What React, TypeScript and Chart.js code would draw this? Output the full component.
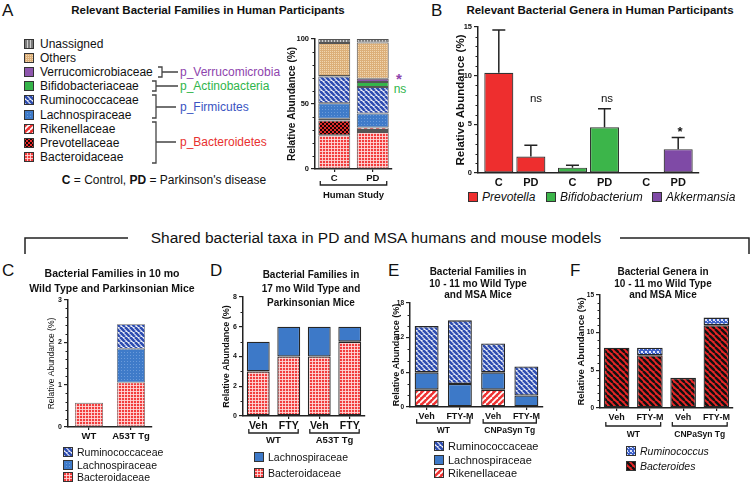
import React, { useEffect, useRef } from 'react';
import { Chart, registerables } from 'chart.js';
Chart.register(...registerables);

const FONT = '"Liberation Sans", Arial, Helvetica, sans-serif';
Chart.defaults.font.family = FONT;
Chart.defaults.color = '#111';

// ---------------- Data ----------------
// Panel A: relative abundance (%) of families, human participants
const humanGroups = ['C', 'PD'];
const aBacteroidaceae = [26, 28.5];
const aPrevotellaceae = [11.3, 1.5];
const aRikenellaceae = [1.3, 2];
const aLachnospiraceae = [12, 10.7];
const aRuminococcaceae = [20.6, 20.3];
const aBifidobacteriaceae = [0.3, 4];
const aVerrucomicrobiaceae = [0, 2.4];
const aOthers = [25.5, 28];
const aUnassigned = [3, 2.6];
const aLegendNames = ['Unassigned', 'Others', 'Verrucomicrobiaceae', 'Bifidobacteriaceae', 'Ruminococcaceae', 'Lachnospiraceae', 'Rikenellaceae', 'Prevotellaceae', 'Bacteroidaceae'];
const aLegendKinds = ['unassigned', 'others', 'verruco', 'bifido', 'rumino', 'lachnoDots', 'rikenel', 'prevot', 'bacteroidaceae'];

// Panel B: genera, mean and SEM
const genera = ['Prevotella', 'Bifidobacterium', 'Akkermansia'];
const bControl = [10.3, 0.55, 0];
const bControlSem = [4.4, 0.25, 0];
const bPD = [1.7, 4.7, 2.45];
const bPDSem = [1.15, 1.9, 1.2];

// Panel C
const cGroups = ['WT', 'A53T Tg'];
const cBacteroidaceae = [0.57, 1.05];
const cLachnospiraceae = [0, 0.8];
const cRuminococcaceae = [0, 0.58];

// Panel D
const dGroups = ['Veh', 'FTY', 'Veh', 'FTY'];
const dGenotypes = ['WT', 'A53T Tg'];
const dBacteroidaceae = [3, 4, 4, 5];
const dLachnospiraceae = [2, 2, 2, 1];

// Panel E
const eGroups = ['Veh', 'FTY-M', 'Veh', 'FTY-M'];
const eGenotypes = ['WT', 'CNPaSyn Tg'];
const eRikenellaceae = [3, 0, 3, 0];
const eLachnospiraceae = [3, 4, 3, 2];
const eRuminococcaceae = [8, 11, 5, 5];

// Panel F
const fGroups = ['Veh', 'FTY-M', 'Veh', 'FTY-M'];
const fGenotypes = ['WT', 'CNPaSyn Tg'];
const fBacteroides = [8, 7, 4, 11];
const fRuminococcus = [0, 1, 0, 1];

// ---------------- Fills ----------------
function makeFill(kind: string): string | CanvasPattern {
  const mk = (w: number, h: number, draw: (g: CanvasRenderingContext2D) => void): CanvasPattern => {
    const c = document.createElement('canvas');
    c.width = w; c.height = h;
    const g = c.getContext('2d')!;
    draw(g);
    return g.createPattern(c, 'repeat')!;
  };
  const stripes = (bg: string, fg: string, n: number, lw: number, up: boolean) =>
    mk(n, n, g => {
      g.fillStyle = bg; g.fillRect(0, 0, n, n);
      g.strokeStyle = fg; g.lineWidth = lw;
      for (const o of [-n, 0, n]) {
        g.beginPath();
        if (up) { g.moveTo(o, n); g.lineTo(o + n, 0); } else { g.moveTo(o, 0); g.lineTo(o + n, n); }
        g.stroke();
      }
    });
  switch (kind) {
    case 'unassigned': return mk(3, 1, g => { g.fillStyle = '#7c7c7c'; g.fillRect(0, 0, 3, 1); g.fillStyle = '#cfcfcf'; g.fillRect(0, 0, 1, 1); });
    case 'others': return mk(2, 2, g => { g.fillStyle = '#dcaf79'; g.fillRect(0, 0, 2, 2); g.fillStyle = '#f0d6b0'; g.fillRect(0, 0, 1, 1); });
    case 'verruco': return '#8e56ad';
    case 'bifido': return '#35b44a';
    case 'rumino': return stripes('#eef1fa', '#2d4cb0', 5, 2.6, false);
    case 'lachnoDots': return mk(3, 3, g => { g.fillStyle = '#3f7bc9'; g.fillRect(0, 0, 3, 3); g.fillStyle = '#6b9bda'; g.fillRect(0, 0, 1, 1); });
    case 'lachno': return '#3d79c8';
    case 'rikenel': return stripes('#ee3232', '#ffffff', 6, 1.8, true);
    case 'prevot': return mk(4, 4, g => { g.fillStyle = '#150505'; g.fillRect(0, 0, 4, 4); g.fillStyle = '#e42a2a'; g.fillRect(0, 0, 2, 2); g.fillRect(2, 2, 2, 2); });
    case 'bacteroidaceae': return mk(3, 3, g => { g.fillStyle = '#f23c3c'; g.fillRect(0, 0, 3, 3); g.fillStyle = 'rgba(255,220,220,0.85)'; g.fillRect(0, 0, 3, 1); g.fillRect(0, 0, 1, 3); });
    case 'bRed': return '#ee2e2e';
    case 'bGreen': return '#3cb54a';
    case 'bPurple': return '#7f4aa6';
    case 'bacteroides': return stripes('#e62626', '#111111', 6, 2.4, false);
    case 'ruminococcus': return mk(4, 4, g => { g.fillStyle = '#3f62c9'; g.fillRect(0, 0, 4, 4); g.fillStyle = '#dfe6fa'; g.fillRect(0, 0, 2, 2); g.fillRect(2, 2, 1, 1); });
    default: return '#999';
  }
}

// ---------------- Helpers ----------------
function Txt(props: { x: number; y: number; s: number; w?: number; c?: string; it?: boolean; a?: 'left' | 'center' | 'right'; children: React.ReactNode }) {
  const { x, y, s, w = 400, c = '#111', it = false, a = 'left', children } = props;
  const tx = a === 'center' ? '-50%' : a === 'right' ? '-100%' : '0';
  return (
    <div style={{ position: 'absolute', left: x, top: y, transform: `translate(${tx}, -50%)`, fontSize: s, fontWeight: w, fontStyle: it ? 'italic' : 'normal', color: c, whiteSpace: 'nowrap', lineHeight: 1, fontFamily: FONT }}>
      {children}
    </div>
  );
}

function Swatch({ kind, x, y, size = 10 }: { kind: string; x: number; y: number; size?: number }) {
  const ref = useRef<HTMLCanvasElement>(null);
  useEffect(() => {
    const g = ref.current!.getContext('2d')!;
    g.fillStyle = makeFill(kind) as any;
    g.fillRect(0, 0, size, size);
    g.strokeStyle = '#333';
    g.lineWidth = 1;
    g.strokeRect(0.5, 0.5, size - 1, size - 1);
  }, []);
  return <canvas ref={ref} width={size} height={size} style={{ position: 'absolute', left: x, top: y - size / 2 }} />;
}

type Ds = { label: string; data: number[]; fill: string | string[]; errors?: number[] };
type Group = { label: string; from: number; to: number };
interface PanelProps {
  left: number; top: number; width: number; height: number;
  yw: number; xh: number; padTop: number; padRight: number; padBottom: number;
  labels: string[]; datasets: Ds[]; stacked: boolean;
  yMax: number; yStep: number; minorStep: number;
  yTitle: string; yTitleSize: number; yTitleWeight: string; yTitlePad: number;
  tickSize: number; xSize: number; showX: boolean;
  barPct: number; catPct: number; border: number; borderColor?: string;
  groups?: Group[]; bracketY?: number; groupY?: number; groupSize?: number;
  barLabelY?: number; barLabelSize?: number;
}

function BarPanel(p: PanelProps) {
  const ref = useRef<HTMLCanvasElement>(null);
  useEffect(() => {
    const overlay = {
      id: 'overlay',
      afterDatasetsDraw(chart: any) {
        const ctx = chart.ctx;
        const ys = chart.scales.y;
        p.datasets.forEach((d, i) => {
          if (!d.errors) return;
          const meta = chart.getDatasetMeta(i);
          meta.data.forEach((el: any, j: number) => {
            const e = d.errors![j];
            if (!e) return;
            const yTop = ys.getPixelForValue(d.data[j] + e);
            ctx.save();
            ctx.strokeStyle = '#222'; ctx.lineWidth = 1.5;
            ctx.beginPath();
            ctx.moveTo(el.x, el.y); ctx.lineTo(el.x, yTop);
            ctx.moveTo(el.x - 6.5, yTop); ctx.lineTo(el.x + 6.5, yTop);
            ctx.stroke();
            ctx.restore();
          });
        });
      },
      afterDraw(chart: any) {
        const ctx = chart.ctx;
        const ys = chart.scales.y;
        const area = chart.chartArea;
        ctx.save();
        ctx.strokeStyle = '#222'; ctx.lineWidth = 1;
        for (let v = 0; v <= p.yMax + 1e-9; v += p.minorStep) {
          const r = v / p.yStep;
          if (Math.abs(r - Math.round(r)) < 1e-6) continue;
          const y = Math.round(ys.getPixelForValue(v)) + 0.5;
          ctx.beginPath(); ctx.moveTo(area.left - 2.5, y); ctx.lineTo(area.left, y); ctx.stroke();
        }
        if (p.groups) {
          const meta = chart.getDatasetMeta(0);
          ctx.lineWidth = 1.3; ctx.strokeStyle = '#222'; ctx.fillStyle = '#111';
          ctx.font = `bold ${p.groupSize}px ${FONT}`;
          ctx.textAlign = 'center'; ctx.textBaseline = 'middle';
          const by = p.bracketY! - p.top;
          for (const g of p.groups) {
            const a: any = meta.data[g.from];
            const b: any = meta.data[g.to];
            const x0 = a.x - a.width / 2 + 2;
            const x1 = b.x + b.width / 2 - 2;
            ctx.beginPath();
            ctx.moveTo(x0, by - 4); ctx.lineTo(x0, by); ctx.lineTo(x1, by); ctx.lineTo(x1, by - 4);
            ctx.stroke();
            ctx.fillText(g.label, (x0 + x1) / 2, p.groupY! - p.top);
          }
        }
        if (p.barLabelY) {
          ctx.fillStyle = '#111';
          ctx.font = `bold ${p.barLabelSize}px ${FONT}`;
          ctx.textAlign = 'center'; ctx.textBaseline = 'middle';
          p.datasets.forEach((d, i) => {
            chart.getDatasetMeta(i).data.forEach((el: any) => {
              ctx.fillText(d.label, el.x, p.barLabelY! - p.top);
            });
          });
        }
        ctx.restore();
      },
    };
    const chart = new Chart(ref.current!, {
      type: 'bar',
      data: {
        labels: p.labels,
        datasets: p.datasets.map(d => ({
          label: d.label,
          data: d.data,
          backgroundColor: (Array.isArray(d.fill) ? d.fill.map(makeFill) : makeFill(d.fill)) as any,
          borderColor: p.borderColor || '#262626',
          borderWidth: p.border,
          borderSkipped: false,
          barPercentage: p.barPct,
          categoryPercentage: p.catPct,
        })),
      },
      options: {
        responsive: false,
        animation: false,
        devicePixelRatio: 1,
        layout: { padding: { left: 0, top: p.padTop, right: p.padRight, bottom: p.padBottom } },
        plugins: { legend: { display: false }, tooltip: { enabled: false } },
        scales: {
          x: {
            stacked: p.stacked,
            offset: true,
            ticks: { display: p.showX, font: { size: p.xSize, weight: 'bold' }, color: '#111', padding: 1, maxRotation: 0, autoSkip: false },
            grid: { display: true, drawOnChartArea: false, drawTicks: p.showX, tickLength: 3, color: '#222', lineWidth: 1.2, offset: false },
            border: { display: true, color: '#222', width: 1.5 },
            afterFit: (s: any) => { s.height = p.xh; s.paddingLeft = 0; s.paddingRight = 0; },
          },
          y: {
            stacked: p.stacked,
            min: 0,
            max: p.yMax,
            ticks: { stepSize: p.yStep, font: { size: p.tickSize, weight: 'bold' }, color: '#111', padding: 2 },
            grid: { display: true, drawOnChartArea: false, drawTicks: true, tickLength: 4, color: '#222', lineWidth: 1.2 },
            border: { display: true, color: '#222', width: 1.5 },
            title: { display: true, text: p.yTitle, font: { size: p.yTitleSize, weight: p.yTitleWeight as any }, color: '#111', padding: { top: p.yTitlePad, bottom: 0 } },
            afterFit: (s: any) => { s.width = p.yw; s.paddingTop = 0; s.paddingBottom = 0; },
          },
        },
      } as any,
      plugins: [overlay],
    });
    return () => chart.destroy();
  }, []);
  return <canvas ref={ref} width={p.width} height={p.height} style={{ position: 'absolute', left: p.left, top: p.top }} />;
}

// ---------------- App ----------------
export default function App() {
  const ylab = 'Relative Abundance (%)';
  return (
    <div style={{ position: 'fixed', left: 0, top: 0, width: 752, height: 482, background: '#fff', overflow: 'hidden', fontFamily: FONT }}>
      {/* Panel letters */}
      <Txt x={2} y={10} s={17}>A</Txt>
      <Txt x={431} y={10} s={17}>B</Txt>
      <Txt x={2} y={270} s={17}>C</Txt>
      <Txt x={210} y={270} s={17}>D</Txt>
      <Txt x={388} y={270} s={17}>E</Txt>
      <Txt x={570} y={270} s={17}>F</Txt>

      {/* Panel A */}
      <Txt x={208} y={11} s={11.5} w={700} a="center">Relevant Bacterial Families in Human Participants</Txt>
      {aLegendNames.map((n, i) => (
        <React.Fragment key={n}>
          <Swatch kind={aLegendKinds[i]} x={24} y={44 + i * 14.1} />
          <Txt x={40} y={44 + i * 14.1} s={12}>{n}</Txt>
        </React.Fragment>
      ))}
      <Txt x={180} y={72} s={12} c="#8e44ad">p_Verrucomicrobia</Txt>
      <Txt x={180} y={86} s={12} c="#2fb54a">p_Actinobacteria</Txt>
      <Txt x={180} y={107} s={12} c="#3a54c2">p_Firmicutes</Txt>
      <Txt x={180} y={142} s={12} c="#e8312f">p_Bacteroidetes</Txt>
      <Txt x={164} y={180} s={12} a="center"><b>C</b> = Control, <b>PD</b> = Parkinson's disease</Txt>
      <Txt x={399} y={78} s={15} w={700} c="#8e44ad" a="center">*</Txt>
      <Txt x={400} y={89} s={12} c="#2fb54a" a="center">ns</Txt>
      <BarPanel
        left={280} top={31} width={118} height={174} yw={35} xh={16} padTop={8} padRight={6} padBottom={20}
        labels={humanGroups} stacked
        datasets={[
          { label: 'Bacteroidaceae', data: aBacteroidaceae, fill: 'bacteroidaceae' },
          { label: 'Prevotellaceae', data: aPrevotellaceae, fill: 'prevot' },
          { label: 'Rikenellaceae', data: aRikenellaceae, fill: 'rikenel' },
          { label: 'Lachnospiraceae', data: aLachnospiraceae, fill: 'lachnoDots' },
          { label: 'Ruminococcaceae', data: aRuminococcaceae, fill: 'rumino' },
          { label: 'Bifidobacteriaceae', data: aBifidobacteriaceae, fill: 'bifido' },
          { label: 'Verrucomicrobiaceae', data: aVerrucomicrobiaceae, fill: 'verruco' },
          { label: 'Others', data: aOthers, fill: 'others' },
          { label: 'Unassigned', data: aUnassigned, fill: 'unassigned' },
        ]}
        yMax={100} yStep={50} minorStep={10}
        yTitle={ylab} yTitleSize={10} yTitleWeight="bold" yTitlePad={6}
        tickSize={7.5} xSize={9.5} showX barPct={0.83} catPct={1} border={1} borderColor="#555"
        groups={[{ label: 'Human Study', from: 0, to: 1 }]} bracketY={185} groupY={195} groupSize={9.5}
      />

      {/* Panel B */}
      <Txt x={600} y={11} s={11.5} w={700} a="center">Relevant Bacterial Genera in Human Participants</Txt>
      <BarPanel
        left={440} top={19} width={265} height={171} yw={38} xh={4} padTop={8} padRight={6} padBottom={13}
        labels={genera} stacked={false}
        datasets={[
          { label: 'C', data: bControl, fill: ['bRed', 'bGreen', 'bPurple'], errors: bControlSem },
          { label: 'PD', data: bPD, fill: ['bRed', 'bGreen', 'bPurple'], errors: bPDSem },
        ]}
        yMax={15} yStep={5} minorStep={1}
        yTitle={ylab} yTitleSize={11.5} yTitleWeight="bold" yTitlePad={14}
        tickSize={7.5} xSize={11} showX={false} barPct={0.906} catPct={0.87} border={1.2} borderColor="#333"
        barLabelY={183} barLabelSize={11}
      />
      <Txt x={536} y={99} s={11.5} a="center">ns</Txt>
      <Txt x={607} y={99} s={11.5} a="center">ns</Txt>
      <Txt x={680} y={131} s={13} w={700} a="center">*</Txt>
      <Swatch kind="bRed" x={468} y={197} />
      <Txt x={482} y={197} s={12} it>{genera[0]}</Txt>
      <Swatch kind="bGreen" x={546} y={197} />
      <Txt x={560} y={197} s={12} it>{genera[1]}</Txt>
      <Swatch kind="bPurple" x={652} y={197} />
      <Txt x={666} y={197} s={12} it>{genera[2]}</Txt>

      {/* Header */}
      <Txt x={376} y={238} s={15.5} a="center">Shared bacterial taxa in PD and MSA humans and mouse models</Txt>
      <svg width={752} height={482} style={{ position: 'absolute', left: 0, top: 0, pointerEvents: 'none' }}>
        <g fill="none" stroke="#444" strokeWidth={1.3}>
          <path d="M158 67 H162 V77 H158 M162 72 H178" />
          <path d="M152 81 H156 V91 H152 M156 86 H178" />
          <path d="M152 95 H156 V118 H152 M156 107 H176" />
          <path d="M152 122 H156 V163 H152 M156 142 H176" />
        </g>
        <path d="M25 254 V238 H128 M620 238 H749 V254" fill="none" stroke="#222" strokeWidth={1.5} />
      </svg>

      {/* Panel C */}
      <Txt x={112} y={273} s={10.5} w={700} a="center">Bacterial Families in 10 mo</Txt>
      <Txt x={112} y={288} s={10.5} w={700} a="center">Wild Type and Parkinsonian Mice</Txt>
      <BarPanel
        left={40} top={292} width={118} height={153} yw={28} xh={16} padTop={8} padRight={6} padBottom={2}
        labels={cGroups} stacked
        datasets={[
          { label: 'Bacteroidaceae', data: cBacteroidaceae, fill: 'bacteroidaceae' },
          { label: 'Lachnospiraceae', data: cLachnospiraceae, fill: 'lachnoDots' },
          { label: 'Ruminococcaceae', data: cRuminococcaceae, fill: 'rumino' },
        ]}
        yMax={3} yStep={1} minorStep={0.2}
        yTitle={ylab} yTitleSize={8.5} yTitleWeight="normal" yTitlePad={7}
        tickSize={7} xSize={9.5} showX barPct={0.67} catPct={1} border={0.8} borderColor="#666"
      />
      <Swatch kind="rumino" x={63} y={452} />
      <Txt x={77} y={452} s={10.5}>Ruminococcaceae</Txt>
      <Swatch kind="lachnoDots" x={63} y={464.5} />
      <Txt x={77} y={464.5} s={10.5}>Lachnospiraceae</Txt>
      <Swatch kind="bacteroidaceae" x={63} y={477} />
      <Txt x={77} y={477} s={10.5}>Bacteroidaceae</Txt>

      {/* Panel D */}
      <Txt x={311} y={275} s={10} w={700} a="center">Bacterial Families in</Txt>
      <Txt x={311} y={289} s={10} w={700} a="center">17 mo Wild Type and</Txt>
      <Txt x={311} y={303} s={10} w={700} a="center">Parkinsonian Mice</Txt>
      <BarPanel
        left={210} top={289} width={161} height={161} yw={33} xh={16} padTop={8} padRight={6} padBottom={18}
        labels={dGroups} stacked
        datasets={[
          { label: 'Bacteroidaceae', data: dBacteroidaceae, fill: 'bacteroidaceae' },
          { label: 'Lachnospiraceae', data: dLachnospiraceae, fill: 'lachno' },
        ]}
        yMax={8} yStep={2} minorStep={1}
        yTitle={ylab} yTitleSize={9} yTitleWeight="bold" yTitlePad={11.6}
        tickSize={7} xSize={10.5} showX barPct={0.75} catPct={1} border={1.3}
        groups={[{ label: dGenotypes[0], from: 0, to: 1 }, { label: dGenotypes[1], from: 2, to: 3 }]} bracketY={433} groupY={440} groupSize={9.5}
      />
      <Swatch kind="lachno" x={254} y={457} />
      <Txt x={268} y={457} s={10.5}>Lachnospiraceae</Txt>
      <Swatch kind="bacteroidaceae" x={254} y={473} />
      <Txt x={268} y={473} s={10.5}>Bacteroidaceae</Txt>

      {/* Panel E */}
      <Txt x={478} y={272} s={10} w={700} a="center">Bacterial Families in</Txt>
      <Txt x={478} y={283.5} s={10} w={700} a="center">10 - 11 mo Wild Type</Txt>
      <Txt x={478} y={295} s={10} w={700} a="center">and MSA Mice</Txt>
      <BarPanel
        left={378} top={295} width={171} height={145} yw={32} xh={16} padTop={8} padRight={6} padBottom={17}
        labels={eGroups} stacked
        datasets={[
          { label: 'Rikenellaceae', data: eRikenellaceae, fill: 'rikenel' },
          { label: 'Lachnospiraceae', data: eLachnospiraceae, fill: 'lachno' },
          { label: 'Ruminococcaceae', data: eRuminococcaceae, fill: 'rumino' },
        ]}
        yMax={18} yStep={6} minorStep={2}
        yTitle={ylab} yTitleSize={9} yTitleWeight="bold" yTitlePad={13.6}
        tickSize={6.5} xSize={9} showX barPct={0.72} catPct={1} border={1.3}
        groups={[{ label: eGenotypes[0], from: 0, to: 1 }, { label: eGenotypes[1], from: 2, to: 3 }]} bracketY={423} groupY={431} groupSize={8.5}
      />
      <Swatch kind="rumino" x={434} y={446} />
      <Txt x={448} y={446} s={11}>Ruminococcaceae</Txt>
      <Swatch kind="lachno" x={434} y={459.5} />
      <Txt x={448} y={459.5} s={11}>Lachnospiraceae</Txt>
      <Swatch kind="rikenel" x={434} y={473} />
      <Txt x={448} y={473} s={11}>Rikenellaceae</Txt>

      {/* Panel F */}
      <Txt x={663} y={272} s={10} w={700} a="center">Bacterial Genera in</Txt>
      <Txt x={663} y={283.5} s={10} w={700} a="center">10 - 11 mo Wild Type</Txt>
      <Txt x={663} y={295} s={10} w={700} a="center">and MSA Mice</Txt>
      <BarPanel
        left={565} top={287} width={174} height={158} yw={35} xh={16} padTop={8} padRight={6} padBottom={21}
        labels={fGroups} stacked
        datasets={[
          { label: 'Bacteroides', data: fBacteroides, fill: 'bacteroides' },
          { label: 'Ruminococcus', data: fRuminococcus, fill: 'ruminococcus' },
        ]}
        yMax={15} yStep={5} minorStep={1}
        yTitle={ylab} yTitleSize={9.5} yTitleWeight="bold" yTitlePad={10.3}
        tickSize={6.5} xSize={9} showX barPct={0.77} catPct={1} border={1.3}
        groups={[{ label: fGenotypes[0], from: 0, to: 1 }, { label: fGenotypes[1], from: 2, to: 3 }]} bracketY={426} groupY={435} groupSize={8.5}
      />
      <Swatch kind="ruminococcus" x={626} y={451} />
      <Txt x={640} y={451} s={10.5} it>Ruminococcus</Txt>
      <Swatch kind="bacteroides" x={626} y={466} />
      <Txt x={640} y={466} s={10.5} it>Bacteroides</Txt>
    </div>
  );
}
